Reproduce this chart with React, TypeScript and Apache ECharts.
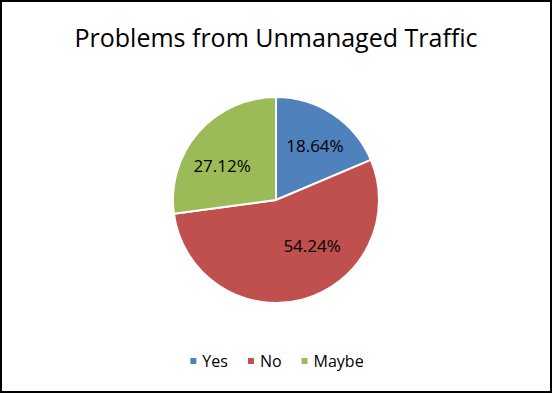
import React, { useEffect, useRef } from "react";
import * as echarts from "echarts";

const titleText = "Problems from Unmanaged Traffic";
const categories = ["Yes", "No", "Maybe"];
const counts = [11, 32, 16];
const colors = ["#4F81BD", "#C0504D", "#9BBB59"];

export default function App() {
  const ref = useRef<HTMLDivElement>(null);
  useEffect(() => {
    if (!ref.current) return;
    const chart = echarts.init(ref.current, null, { renderer: "svg" });
    const total = counts.reduce((a, b) => a + b, 0);
    const labelOffsets = [
      [3, 0],
      [19, -17],
      [-5, 8],
    ];
    const data = categories.map((c, i) => ({
      name: c,
      value: counts[i],
      itemStyle: { color: colors[i] },
    }));
    chart.setOption({
      animation: false,
      backgroundColor: "#ffffff",
      title: {
        text: titleText,
        left: "center",
        top: 17,
        textStyle: {
          fontFamily: "Open Sans",
          fontSize: 25,
          fontWeight: "normal",
          color: "#000000",
        },
      },
      legend: {
        bottom: 17,
        left: "center",
        icon: "rect",
        itemWidth: 8,
        itemHeight: 8,
        itemGap: 18,
        textStyle: { fontFamily: "Open Sans", fontSize: 16, color: "#000" },
        data: categories,
      },
      series: [
        {
          type: "pie",
          center: [274, 198],
          radius: [0, 103],
          startAngle: 90,
          clockwise: true,
          itemStyle: { borderColor: "#ffffff", borderWidth: 2 },
          label: { show: false },
          labelLine: { show: false },
          emphasis: { disabled: true },
          data,
        },
        {
          type: "pie",
          center: [274, 198],
          radius: [0, 124],
          startAngle: 90,
          clockwise: true,
          silent: true,
          itemStyle: { color: "transparent", borderWidth: 0 },
          label: {
            show: true,
            position: "inside",
            fontFamily: "Open Sans",
            fontSize: 17,
            color: "#000",
            formatter: (p: any) => ((p.value / total) * 100).toFixed(2) + "%",
          },
          labelLine: { show: false },
          emphasis: { disabled: true },
          legendHoverLink: false,
          data: categories.map((c, i) => ({
            name: c,
            value: counts[i],
            itemStyle: { color: "transparent" },
            label: { offset: labelOffsets[i] },
          })),
        },
      ],
    });
    return () => chart.dispose();
  }, []);
  return (
    <div
      style={{
        position: "absolute",
        left: 0,
        top: 0,
        width: 552,
        height: 393,
        boxSizing: "border-box",
        border: "2px solid #000",
        background: "#fff",
      }}
    >
      <div ref={ref} style={{ width: 548, height: 389 }} />
    </div>
  );
}
